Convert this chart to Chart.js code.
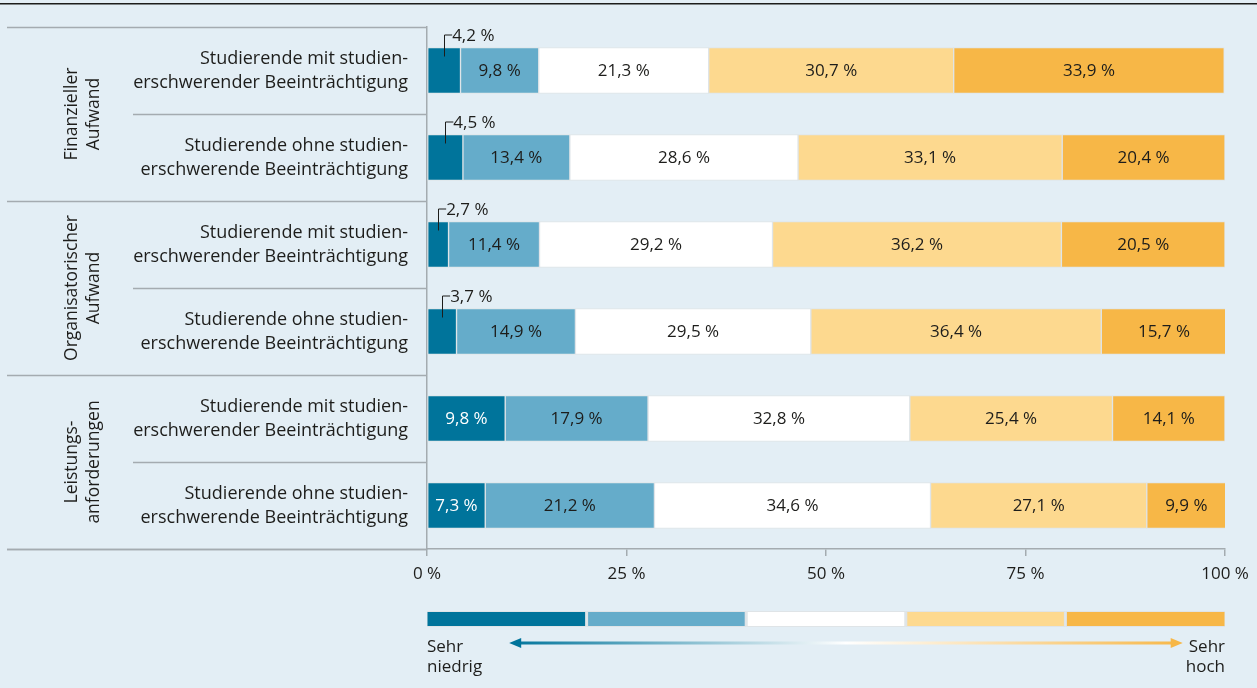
<!DOCTYPE html>
<html lang="de">
<head>
<meta charset="utf-8">
<title>Aufwand und Anforderungen im Studium</title>
<script src="https://cdn.jsdelivr.net/npm/chart.js@4.4.1/dist/chart.umd.min.js"></script>
<style>
  html, body { margin: 0; padding: 0; background: #e3eef5; }
  #wrap { position: relative; width: 1257px; height: 688px; }
</style>
</head>
<body>
<div id="wrap"><canvas id="chart"></canvas></div>
<script>
// Kategorien (Zeilen) und Gruppen
const rowLabels = [
    ['Studierende mit studien-', 'erschwerender Beeinträchtigung'],
    ['Studierende ohne studien-', 'erschwerende Beeinträchtigung'],
    ['Studierende mit studien-', 'erschwerender Beeinträchtigung'],
    ['Studierende ohne studien-', 'erschwerende Beeinträchtigung'],
    ['Studierende mit studien-', 'erschwerender Beeinträchtigung'],
    ['Studierende ohne studien-', 'erschwerende Beeinträchtigung']
];
const groupLabels = [
    ['Finanzieller', 'Aufwand'],
    ['Organisatorischer', 'Aufwand'],
    ['Leistungs-', 'anforderungen']
];

// Werte in Prozent, je Stufe
const sehrNiedrig = [4.2, 4.5, 2.7, 3.7, 9.8, 7.3];
const niedrig     = [9.8, 13.4, 11.4, 14.9, 17.9, 21.2];
const mittel      = [21.3, 28.6, 29.2, 29.5, 32.8, 34.6];
const hoch        = [30.7, 33.1, 36.2, 36.4, 25.4, 27.1];
const sehrHoch    = [33.9, 20.4, 20.5, 15.7, 14.1, 9.9];

const xTicks = [0, 25, 50, 75, 100];
const levelColors = ['#00749b', '#65acca', '#ffffff', '#fdd98f', '#f7b747'];
const levelLabels = ['sehr niedrig', 'niedrig', 'mittel', 'hoch', 'sehr hoch'];

const TEXT = '#1d1d1b';
const LINE = '#a4abb0';
const EDGE = '#dfe4e7';
const BASE_FONT = '"Open Sans", "Noto Sans", sans-serif';

const fmt = v => v.toFixed(1).replace('.', ',') + ' %';

const series = [sehrNiedrig, niedrig, mittel, hoch, sehrHoch];

// Left panel lines, group labels, value labels, legend
const decorPlugin = {
    id: 'decor',
    beforeDraw(chart) {
        const ctx = chart.ctx;
        ctx.save();
        ctx.fillStyle = '#e3eef5';
        ctx.fillRect(0, 0, chart.width, chart.height);
        ctx.fillStyle = '#1d1d1b';
        ctx.fillRect(0, 3, chart.width, 1.5);
        ctx.restore();
    },
    afterDatasetsDraw(chart) {
        const ctx = chart.ctx;
        const x = chart.scales.x;
        const y = chart.scales.y;
        const area = chart.chartArea;
        ctx.save();

        // separator lines in the label panel
        ctx.strokeStyle = LINE;
        ctx.lineWidth = 1.5;
        const n = rowLabels.length;
        const step = (y.getPixelForValue(1) - y.getPixelForValue(0));
        for (let i = 0; i <= n; i++) {
            const yy = Math.round(y.getPixelForValue(i) - step / 2) + 0.5;
            const startX = (i % 2 === 0) ? 7 : 133;
            ctx.beginPath();
            ctx.moveTo(startX, yy);
            ctx.lineTo(area.left, yy);
            ctx.stroke();
        }

        // group labels (rotated)
        ctx.fillStyle = TEXT;
        ctx.font = '17.5px ' + BASE_FONT;
        ctx.textAlign = 'center';
        ctx.textBaseline = 'middle';
        groupLabels.forEach((lines, g) => {
            const cy = (y.getPixelForValue(g * 2) + y.getPixelForValue(g * 2 + 1)) / 2;
            ctx.save();
            ctx.translate(83, cy);
            ctx.rotate(-Math.PI / 2);
            lines.forEach((t, k) => ctx.fillText(t, 0, (k - (lines.length - 1) / 2) * 22));
            ctx.restore();
        });

        // value labels
        ctx.font = '17px ' + BASE_FONT;
        chart.data.datasets.forEach((ds, di) => {
            const meta = chart.getDatasetMeta(di);
            meta.data.forEach((bar, i) => {
                const v = ds.data[i];
                const left = bar.base;
                const right = bar.x;
                const cx = (left + right) / 2;
                if (v < 5) {
                    const top = bar.y - bar.height / 2;
                    const ly = top - 13;
                    ctx.strokeStyle = TEXT;
                    ctx.lineWidth = 1;
                    ctx.beginPath();
                    ctx.moveTo(Math.round(cx) + 0.5, top + 9);
                    ctx.lineTo(Math.round(cx) + 0.5, ly + 0.5);
                    ctx.lineTo(cx + 8, ly + 0.5);
                    ctx.stroke();
                    ctx.fillStyle = TEXT;
                    ctx.textAlign = 'left';
                    ctx.fillText(fmt(v), cx + 8, ly + 2);
                } else {
                    ctx.fillStyle = di === 0 ? '#ffffff' : TEXT;
                    ctx.textAlign = 'center';
                    ctx.fillText(fmt(v), cx, bar.y + 1);
                }
            });
        });

        // extend bottom axis line into the label panel
        ctx.strokeStyle = LINE;
        ctx.lineWidth = 1.5;
        ctx.beginPath();
        ctx.moveTo(7, area.bottom + 0.5);
        ctx.lineTo(area.left, area.bottom + 0.5);
        ctx.stroke();

        // legend scale bar
        const ly0 = 612, lh = 14;
        levelColors.forEach((c, k) => {
            const a = x.getPixelForValue(k * 20);
            const b = x.getPixelForValue((k + 1) * 20);
            ctx.fillStyle = EDGE;
            ctx.fillRect(a, ly0 - 1, b - a, lh + 2);
            ctx.fillStyle = c;
            ctx.fillRect(a + (k ? 1.5 : 0.5), ly0, b - a - (k ? 1.5 : 0.5) - (k < 4 ? 1.5 : 0.5), lh);
        });

        // arrow with gradient
        const ay = 643;
        const ax0 = x.getPixelForValue(10.3);
        const ax1 = x.getPixelForValue(94.7);
        const grad = ctx.createLinearGradient(ax0, 0, ax1, 0);
        grad.addColorStop(0, '#00749b');
        grad.addColorStop(0.5, '#ffffff');
        grad.addColorStop(1, '#f7b747');
        ctx.strokeStyle = grad;
        ctx.lineWidth = 3;
        ctx.beginPath();
        ctx.moveTo(ax0 + 8, ay);
        ctx.lineTo(ax1 - 8, ay);
        ctx.stroke();
        ctx.fillStyle = '#00749b';
        ctx.beginPath();
        ctx.moveTo(ax0, ay);
        ctx.lineTo(ax0 + 12, ay - 5);
        ctx.lineTo(ax0 + 12, ay + 5);
        ctx.closePath();
        ctx.fill();
        ctx.fillStyle = '#f7b747';
        ctx.beginPath();
        ctx.moveTo(ax1, ay);
        ctx.lineTo(ax1 - 12, ay - 5);
        ctx.lineTo(ax1 - 12, ay + 5);
        ctx.closePath();
        ctx.fill();

        ctx.fillStyle = TEXT;
        ctx.font = '17px ' + BASE_FONT;
        ctx.textBaseline = 'middle';
        ctx.textAlign = 'left';
        ctx.fillText('Sehr', area.left, 647);
        ctx.fillText('niedrig', area.left, 667);
        ctx.textAlign = 'right';
        ctx.fillText('Sehr', area.right, 647);
        ctx.fillText('hoch', area.right, 667);

        ctx.restore();
    }
};

new Chart(document.getElementById('chart'), {
    type: 'bar',
    data: {
        labels: rowLabels,
        datasets: series.map((vals, k) => ({
            label: levelLabels[k],
            data: vals,
            backgroundColor: levelColors[k],
            borderColor: EDGE,
            borderWidth: 1,
            borderSkipped: false,
            barThickness: 46
        }))
    },
    options: {
        indexAxis: 'y',
        responsive: true,
        maintainAspectRatio: false,
        animation: false,
        layout: { padding: { top: 27, right: 32, bottom: 0, left: 0 } },
        plugins: {
            legend: { display: false },
            tooltip: { enabled: false }
        },
        scales: {
            x: {
                stacked: true,
                min: 0,
                max: 100,
                afterBuildTicks: (scale) => { scale.ticks = xTicks.map(v => ({ value: v })); },
                ticks: {
                    callback: (v) => v + ' %',
                    color: TEXT,
                    font: { family: BASE_FONT, size: 17 },
                    padding: 8,
                    maxRotation: 0
                },
                grid: { drawOnChartArea: false, drawTicks: true, tickLength: 7, color: LINE, lineWidth: 1.5 },
                border: { display: true, color: LINE, width: 1.5 },
                afterFit: (scale) => { scale.height = 139; scale.paddingLeft = 0; scale.paddingRight = 0; }
            },
            y: {
                stacked: true,
                ticks: {
                    color: TEXT,
                    font: { family: BASE_FONT, size: 18, lineHeight: 1.33 },
                    padding: 19
                },
                grid: { display: false, drawTicks: false },
                border: { display: true, color: LINE, width: 1.5 },
                afterFit: (scale) => { scale.width = 427; scale.paddingTop = 0; scale.paddingBottom = 0; }
            }
        }
    },
    plugins: [decorPlugin]
});
</script>
</body>
</html>
